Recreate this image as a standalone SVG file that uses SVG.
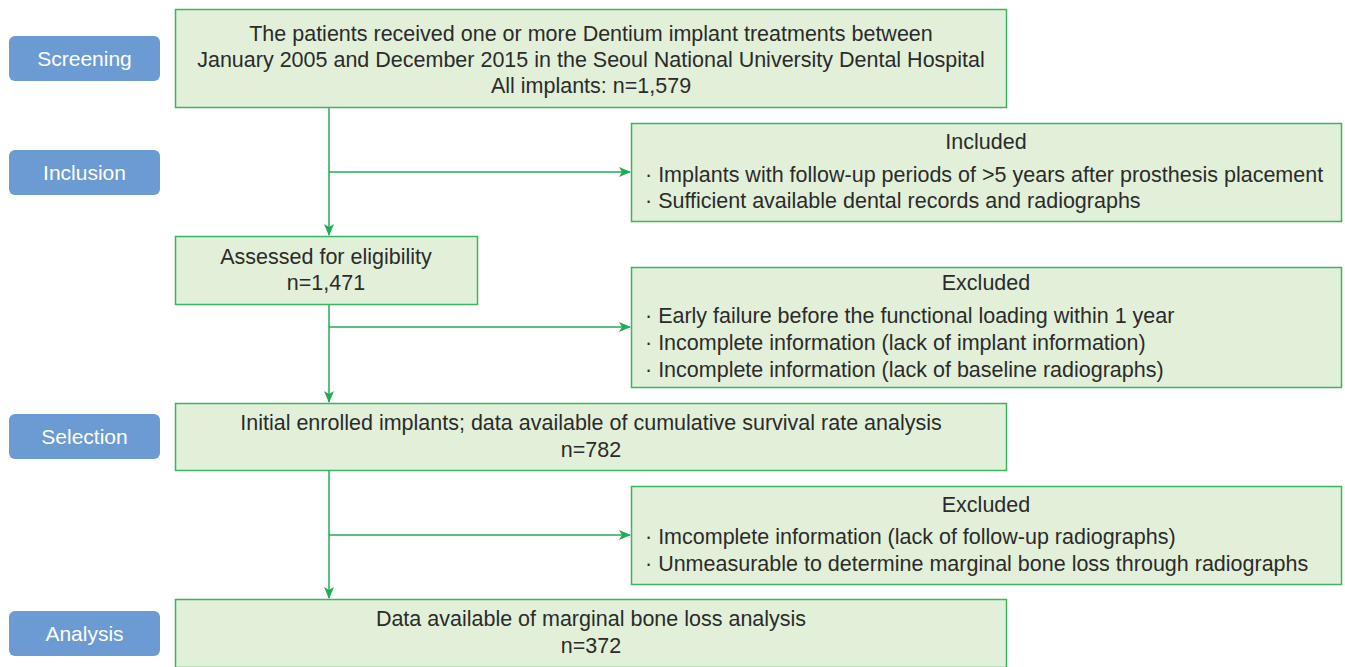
<svg xmlns="http://www.w3.org/2000/svg" width="1345" height="667" viewBox="0 0 1345 667">
<defs>
<marker id="ah" markerWidth="12" markerHeight="10" refX="11" refY="5" orient="auto" markerUnits="userSpaceOnUse">
<path d="M0,0 L12,5 L0,10 L3,5 Z" fill="#1fae55"/>
</marker>
<style>
.lab rect{fill:#6b9bd2;}
.lab text{fill:#ffffff;font-family:"Liberation Sans",Arial,sans-serif;font-size:21px;text-anchor:middle;}
.box rect{fill:#e2f0d9;stroke:#3cb563;stroke-width:1.5;}
.box text{fill:#2b2b2b;font-family:"Liberation Sans",Arial,sans-serif;font-size:21.5px;}
.c{text-anchor:middle;}
.t{fill:#111111;}
.conn{stroke:#1fae55;stroke-width:1.5;fill:none;}
</style>
</defs>
<rect width="1345" height="667" fill="#ffffff"/>
<g id="lab-screening" class="lab"><rect x="9" y="36" width="151" height="45" rx="6"/><text x="84.5" y="65.5">Screening</text></g>
<g id="lab-inclusion" class="lab"><rect x="9" y="150" width="151" height="45" rx="6"/><text x="84.5" y="179.5">Inclusion</text></g>
<g id="lab-selection" class="lab"><rect x="9" y="414" width="151" height="45" rx="6"/><text x="84.5" y="443.5">Selection</text></g>
<g id="lab-analysis" class="lab"><rect x="9" y="611" width="151" height="45" rx="6"/><text x="84.5" y="640.5">Analysis</text></g>

<g id="connectors">
<path class="conn" d="M329,107 V235" marker-end="url(#ah)"/>
<path class="conn" d="M329,172 H630" marker-end="url(#ah)"/>
<path class="conn" d="M329,304 V402" marker-end="url(#ah)"/>
<path class="conn" d="M329,327 H630" marker-end="url(#ah)"/>
<path class="conn" d="M329,470 V598" marker-end="url(#ah)"/>
<path class="conn" d="M329,535 H630" marker-end="url(#ah)"/>
</g>

<g id="n-patients" class="box"><rect x="175.5" y="9.5" width="831" height="98"/>
<text class="c" x="591" y="41">The patients received one or more Dentium implant treatments between</text>
<text class="c" x="591" y="67">January 2005 and December 2015 in the Seoul National University Dental Hospital</text>
<text class="c" x="591" y="93">All implants: n=1,579</text></g>

<g id="n-included" class="box"><rect x="631.5" y="123.5" width="710" height="98"/>
<text class="c t" x="986" y="149">Included</text>
<text x="645" y="182">· Implants with follow-up periods of &gt;5 years after prosthesis placement</text>
<text x="645" y="208">· Sufficient available dental records and radiographs</text></g>

<g id="n-assessed" class="box"><rect x="175.5" y="236.5" width="302" height="68"/>
<text class="c" x="326" y="264">Assessed for eligibility</text>
<text class="c" x="326" y="290">n=1,471</text></g>

<g id="n-excluded1" class="box"><rect x="631.5" y="267.5" width="710" height="120"/>
<text class="c t" x="986" y="290">Excluded</text>
<text x="645" y="323">· Early failure before the functional loading within 1 year</text>
<text x="645" y="350">· Incomplete information (lack of implant information)</text>
<text x="645" y="377">· Incomplete information (lack of baseline radiographs)</text></g>

<g id="n-enrolled" class="box"><rect x="175.5" y="403.5" width="831" height="67"/>
<text class="c" x="591" y="430">Initial enrolled implants; data available of cumulative survival rate analysis</text>
<text class="c" x="591" y="457">n=782</text></g>

<g id="n-excluded2" class="box"><rect x="631.5" y="486.5" width="710" height="98"/>
<text class="c t" x="986" y="512">Excluded</text>
<text x="645" y="544">· Imcomplete information (lack of follow-up radiographs)</text>
<text x="645" y="571">· Unmeasurable to determine marginal bone loss through radiographs</text></g>

<g id="n-analysis" class="box"><rect x="175.5" y="599.5" width="831" height="68"/>
<text class="c" x="591" y="626">Data available of marginal bone loss analysis</text>
<text class="c" x="591" y="653">n=372</text></g>
</svg>
